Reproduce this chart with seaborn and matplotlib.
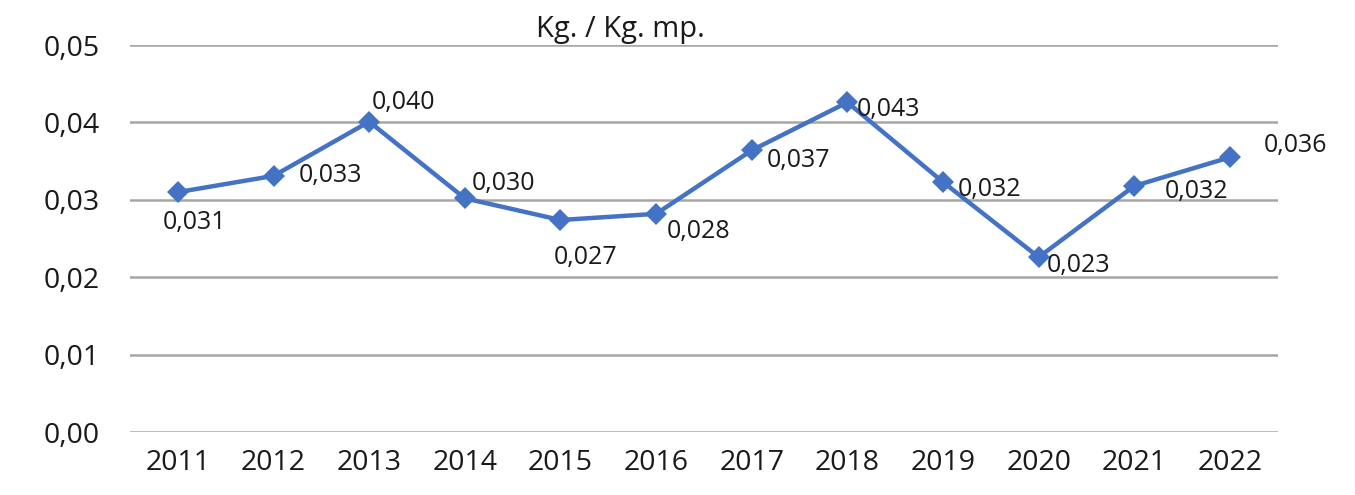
import matplotlib
matplotlib.use("Agg")
import matplotlib.pyplot as plt
import seaborn as sns
import pandas as pd

# -------------------------
# Data
# -------------------------

years = ["2011", "2012", "2013", "2014", "2015", "2016",
         "2017", "2018", "2019", "2020", "2021", "2022"]

values = [0.0310, 0.0331, 0.0401, 0.0302, 0.0274, 0.0282,
          0.0364, 0.0426, 0.0323, 0.0226, 0.0318, 0.0355]

labels = ["0,031", "0,033", "0,040", "0,030", "0,027", "0,028",
          "0,037", "0,043", "0,032", "0,023", "0,032", "0,036"]

yticks = [0.00, 0.01, 0.02, 0.03, 0.04, 0.05]

df = pd.DataFrame({"year": years, "value": values})

# label offsets in pixels (dx, dy) relative to each point, (left edge, vertical center)
offsets = [(-15, -30), (25, 0), (3, 19), (7, 15), (-7, -37), (11, -18),
           (15, -10), (9, -7), (15, -7), (8, -8), (30, -6), (34, 12)]

sns.set_style("white")
plt.rcParams["font.family"] = ["Open Sans", "DejaVu Sans"]

fig = plt.figure(figsize=(13.55, 4.95), dpi=100)
ax = fig.add_axes([0.096, 0.127, 0.847, 0.782])

sns.lineplot(data=df, x="year", y="value", ax=ax, color="#4472C4",
             linewidth=3.2, marker="D", markersize=11, markeredgewidth=0,
             sort=False)

ax.set_xlim(-0.5, len(years) - 0.5)
ax.set_ylim(0, 0.05)
ax.set_yticks(yticks)
ax.set_yticklabels([f"{t:.2f}".replace(".", ",") for t in yticks])
ax.yaxis.grid(True, color="#A6A6A6", linewidth=1.8)
ax.set_axisbelow(True)
for s in ax.spines.values():
    s.set_visible(False)
ax.tick_params(axis="both", length=0, labelsize=20.5, colors="#1a1a1a")
ax.tick_params(axis="y", pad=22)
ax.tick_params(axis="x", pad=12)
ax.set_xlabel("")
ax.set_ylabel("")

px = 72 / 100
for i, (lab, (dx, dy)) in enumerate(zip(labels, offsets)):
    ax.annotate(lab, (i, values[i]), xytext=(dx * px, dy * px),
                textcoords="offset points", ha="left", va="center",
                fontsize=18, color="#1a1a1a", annotation_clip=False)

fig.text(0.458, 0.94, "Kg. / Kg. mp.", ha="center", va="center",
         fontsize=21, color="#1a1a1a")

fig.savefig("out.png", dpi=100)
